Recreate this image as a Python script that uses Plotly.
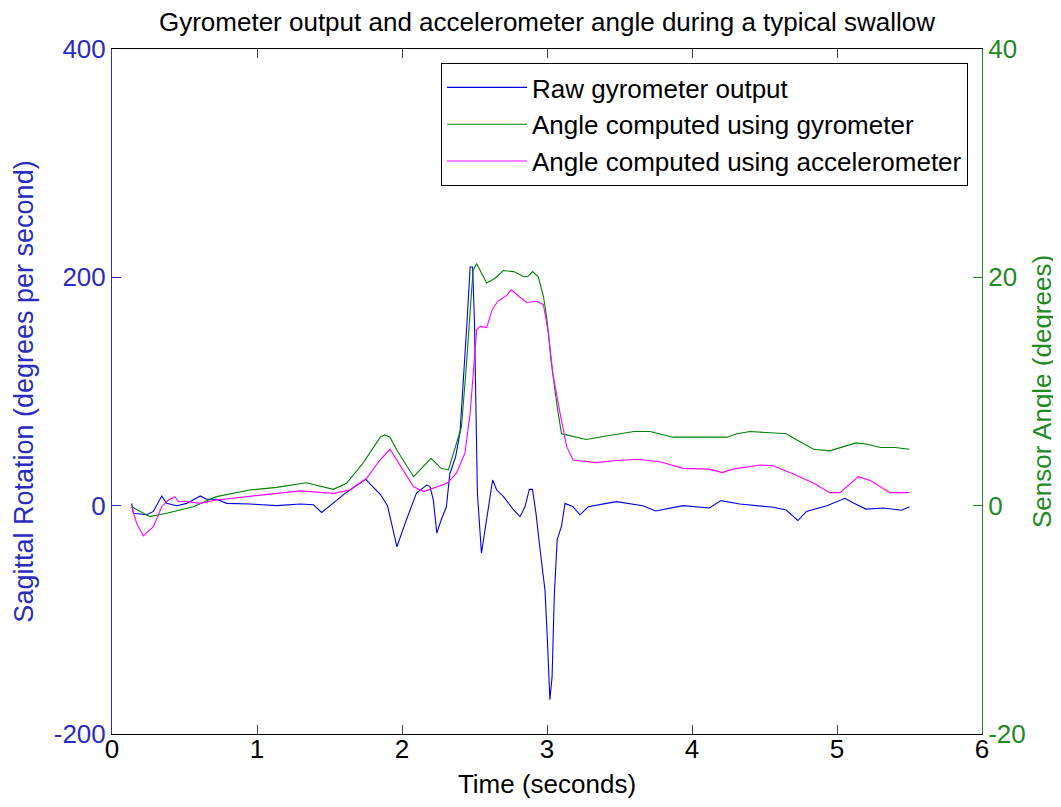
import plotly.graph_objects as go

# Raw gyrometer output (degrees per second), left axis
t_gyro = [0.136, 0.147, 0.24, 0.285, 0.343, 0.377, 0.446, 0.515, 0.609, 0.653, 0.722, 0.791,
          0.952, 1.136, 1.3, 1.389, 1.446, 1.527, 1.61, 1.75, 1.79, 1.85, 1.9, 1.94, 1.965,
          2.03, 2.10, 2.17, 2.193, 2.216, 2.24, 2.27, 2.306, 2.33, 2.37, 2.40, 2.425, 2.448,
          2.47, 2.487, 2.50, 2.51, 2.52, 2.548, 2.58, 2.625, 2.653, 2.70, 2.77, 2.814, 2.848,
          2.878, 2.90, 2.924, 2.95, 2.986, 3.0, 3.02, 3.035, 3.05, 3.07, 3.1, 3.124, 3.18,
          3.227, 3.285, 3.41, 3.48, 3.66, 3.75, 3.94, 4.12, 4.2, 4.33, 4.56, 4.65, 4.73, 4.79,
          4.93, 4.975, 5.055, 5.11, 5.2, 5.32, 5.445, 5.5]
gyro_rate = [2, -6.7, -8, -5, 8.5, 2, 0, 2, 8.5, 5.6, 5.6, 2,
             1.5, 0, 1.5, 0.8, -6, 2, 11, 23, 18, 10, 0, -22, -36,
             -12.5, 11, 18, 16.7, 5, -24, -12.5, -1, 28, 43, 64, 110, 160,
             209, 209, 160, 87, 11, -41.7, -15, 22.5, 13.7, 7.9, -3.8, -9.6, -1,
             14.3, 14.3, -6.7, -36, -74, -110, -170, -150, -80, -30, -18, 2, -1,
             -8, -1, 2, 3.5, 0, -4.6, 0, -2, 4.4, 1.5, -1.4, -3.8, -13, -5,
             0, 2.6, 6.5, 2.6, -3, -2, -4, -1]

# Angle computed using gyrometer (degrees), right axis
t_gyro_angle = [0.136, 0.262, 0.377, 0.56, 0.72, 0.95, 1.136, 1.34, 1.527, 1.617, 1.73, 1.85,
                1.88, 1.917, 1.963, 2.08, 2.2, 2.27, 2.32, 2.36, 2.41, 2.44, 2.47, 2.49, 2.515,
                2.584, 2.64, 2.70, 2.77, 2.84, 2.87, 2.90, 2.94, 2.976, 3.0, 3.03, 3.07, 3.10,
                3.136, 3.27, 3.41, 3.6, 3.71, 3.87, 4.24, 4.31, 4.4, 4.65, 4.745, 4.84, 4.95,
                5.04, 5.13, 5.2, 5.3, 5.4, 5.5]
gyro_angle = [-0.1, -0.96, -0.67, -0.09, 0.79, 1.37, 1.6, 2.0, 1.43, 1.96, 3.7, 6.0,
              6.2, 6.0, 4.9, 2.54, 4.15, 3.27, 3.13, 4.9, 6.9, 11.6, 17.4, 20.6, 21.2,
              19.5, 19.9, 20.6, 20.5, 20.05, 20.1, 20.5, 20.05, 18.3, 16.3, 12.5, 8.67, 6.3,
              6.2, 5.8, 6.1, 6.5, 6.5, 6.0, 6.0, 6.3, 6.5, 6.3, 5.6, 4.94, 4.8,
              5.17, 5.5, 5.4, 5.1, 5.1, 4.94]

# Angle computed using accelerometer (degrees), right axis
t_acc_angle = [0.136, 0.17, 0.216, 0.285, 0.343, 0.39, 0.434, 0.457, 0.515, 0.607, 0.722, 0.837,
               1.067, 1.297, 1.527, 1.64, 1.756, 1.848, 1.917, 1.986, 2.08, 2.15, 2.216, 2.31,
               2.376, 2.434, 2.47, 2.497, 2.515, 2.538, 2.584, 2.62, 2.66, 2.72, 2.753, 2.81,
               2.86, 2.93, 2.975, 3.01, 3.04, 3.09, 3.136, 3.18, 3.34, 3.46, 3.62, 3.78, 3.94,
               4.12, 4.21, 4.28, 4.47, 4.56, 4.7, 4.84, 4.95, 5.02, 5.147, 5.23, 5.365, 5.5]
acc_angle = [-0.1, -1.54, -2.65, -1.84, -0.09, 0.5, 0.79, 0.36, 0.36, 0.2, 0.5, 0.65,
             0.94, 1.3, 1.08, 1.37, 2.4, 4.0, 4.94, 3.6, 1.66, 1.23, 1.52, 1.96,
             2.84, 4.6, 8.1, 12.2, 15.4, 15.7, 15.6, 17.1, 17.9, 18.4, 18.9, 18.3,
             17.8, 17.9, 17.6, 15.1, 11.6, 8.1, 5.17, 4.0, 3.77, 3.94, 4.06, 3.85, 3.27,
             3.2, 2.9, 3.2, 3.56, 3.5, 2.77, 1.96, 1.14, 1.14, 2.54, 2.2, 1.14, 1.14]

series_names = ["Raw gyrometer output", "Angle computed using gyrometer",
                "Angle computed using accelerometer"]

x_ticks = [0, 1, 2, 3, 4, 5, 6]
y_left_ticks = [-200, 0, 200, 400]
y_left_labels = ["-200", "0", "200", "400"]
y_right_ticks = [-20, 0, 20, 40]
y_right_labels = ["-20", "0", "20", "40"]

FONT = "Liberation Sans, Arial, sans-serif"
FS = 26
BLUE_LINE = "#0000e6"
BLUE_TXT = "#2b2bc0"
GREEN_LINE = "#008000"
GREEN_TXT = "#1f8a1f"
MAGENTA = "#ff00ff"

# page body adds an 8px offset; the figure is sized so the axes land where the reference has them
W, H = 1053, 799
ML, MR, MT, MB = 104, 79, 41, 73

fig = go.Figure()
fig.add_trace(go.Scatter(x=t_gyro, y=gyro_rate, mode="lines", name=series_names[0],
                         line=dict(color=BLUE_LINE, width=1.1), yaxis="y"))
fig.add_trace(go.Scatter(x=t_gyro_angle, y=gyro_angle, mode="lines", name=series_names[1],
                         line=dict(color=GREEN_LINE, width=1.1), yaxis="y2"))
fig.add_trace(go.Scatter(x=t_acc_angle, y=acc_angle, mode="lines", name=series_names[2],
                         line=dict(color=MAGENTA, width=1.1), yaxis="y2"))

plot_w = W - ML - MR
plot_h = H - MT - MB

fig.update_layout(
    width=W, height=H,
    margin=dict(l=ML, r=MR, t=MT, b=MB, autoexpand=False),
    paper_bgcolor="white", plot_bgcolor="white",
    font=dict(family=FONT, size=FS, color="black"),
    title=dict(text="Gyrometer output and accelerometer angle during a typical swallow",
               x=(ML + plot_w / 2) / W, xanchor="center", y=1 - 14 / H, yanchor="middle",
               xref="container", yref="container",
               font=dict(family=FONT, size=FS, color="black")),
    xaxis=dict(range=[0, 6], tickvals=x_ticks, ticks="inside", ticklen=9,
               showline=True, linecolor="black", linewidth=1, mirror="ticks",
               showgrid=False, zeroline=False, tickfont=dict(size=FS, color="black"),
               ticklabelstandoff=-8, automargin=False,
               title=dict(text="Time (seconds)", font=dict(size=FS), standoff=11)),
    yaxis=dict(range=[-200, 400], tickvals=y_left_ticks, ticktext=y_left_labels,
               ticks="inside", ticklen=9, automargin=False,
               tickcolor=BLUE_TXT, showline=True, linecolor=BLUE_TXT, linewidth=1,
               showgrid=False, zeroline=False, tickfont=dict(size=FS, color=BLUE_TXT),
               title=dict(text="Sagittal Rotation (degrees per second)",
                          font=dict(size=27, color=BLUE_TXT), standoff=12)),
    yaxis2=dict(range=[-20, 40], tickvals=y_right_ticks, ticktext=y_right_labels,
                ticks="inside", ticklen=9, automargin=False,
                overlaying="y", side="right", anchor="x",
                tickcolor=GREEN_TXT, showline=True, linecolor=GREEN_TXT, linewidth=1,
                showgrid=False, zeroline=False, tickfont=dict(size=FS, color=GREEN_TXT),
                title=dict(text="Sensor Angle (degrees)",
                           font=dict(size=FS, color=GREEN_TXT), standoff=8)),
    showlegend=True,
    legend=dict(x=(968 - 112) / 870, xanchor="right", y=(734 - 63) / 685, yanchor="top",
                bgcolor="white", bordercolor="black", borderwidth=1,
                font=dict(size=FS, color="black"), itemwidth=80, tracegroupgap=0),
)

fig.write_html("out.html")
